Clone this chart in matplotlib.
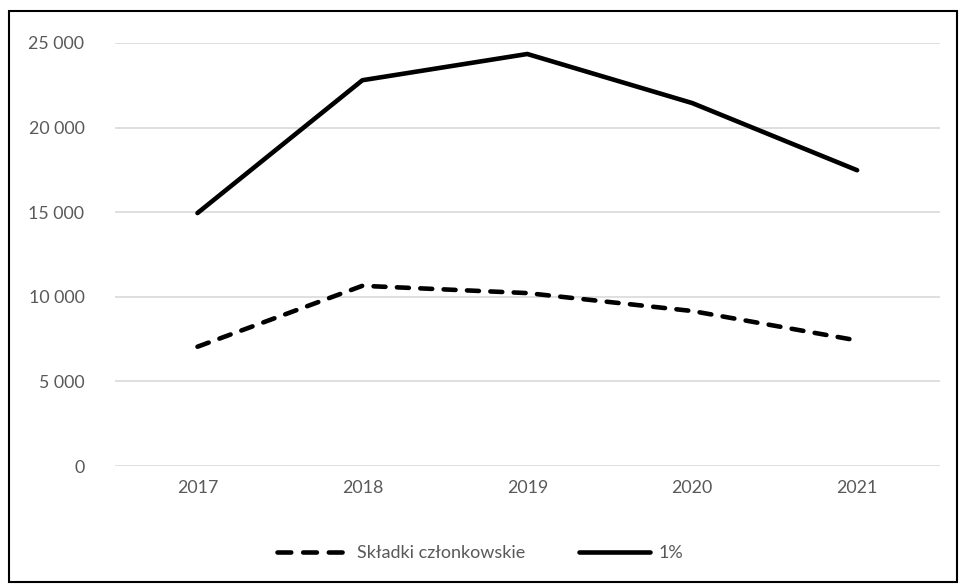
import matplotlib.pyplot as plt
from matplotlib.ticker import FuncFormatter
from matplotlib.patches import Rectangle
from matplotlib.lines import Line2D

years = ["2017", "2018", "2019", "2020", "2021"]
skladki = [7050, 10650, 10220, 9160, 7420]
jeden_procent = [14950, 22800, 24350, 21450, 17480]
labels = ["Składki członkowskie", "1%"]

plt.rcParams['font.family'] = ['Lato', 'DejaVu Sans']

fig = plt.figure(figsize=(9.61, 5.85), dpi=100)
ax = fig.add_axes([0.1197, 0.2034, 0.858, 0.7231])

x = range(len(years))
ax.plot(x, skladki, color='black', lw=3.3, dashes=(2.6, 2.5),
        dash_capstyle='round', solid_capstyle='round')
ax.plot(x, jeden_procent, color='black', lw=3.3, solid_capstyle='round',
        solid_joinstyle='round')

ax.set_xlim(-0.5, len(years) - 0.5)
ax.set_ylim(0, 25000)
ax.set_yticks(range(0, 25001, 5000))
ax.yaxis.set_major_formatter(FuncFormatter(lambda v, p: f"{int(v):,}".replace(",", " ")))
ax.set_xticks(list(x))
ax.set_xticklabels(years)
ax.grid(axis='y', color='#d9d9d9', lw=1.2)
ax.set_axisbelow(True)
for s in ax.spines.values():
    s.set_visible(False)
ax.tick_params(length=0, labelsize=12.8, colors='#595959', pad=10)
ax.tick_params(axis='y', pad=22)

# legend proxies so the dashed handle shows three clean dashes
handles = [Line2D([], [], color='black', lw=3.3, dashes=(3.0, 2.6), dash_capstyle='round'),
           Line2D([], [], color='black', lw=3.3, solid_capstyle='round')]
leg = fig.legend(handles, labels, loc='center', bbox_to_anchor=(0.5, 0.055), ncol=2,
                 frameon=False, fontsize=13, handlelength=3.9, columnspacing=3.0,
                 handletextpad=0.5)
for t in leg.get_texts():
    t.set_color('#595959')

fig.patches.append(Rectangle((0.009, 0.005), 0.987, 0.977, transform=fig.transFigure,
                             fill=False, edgecolor='black', lw=1.5))

fig.savefig('out.png', dpi=100)
